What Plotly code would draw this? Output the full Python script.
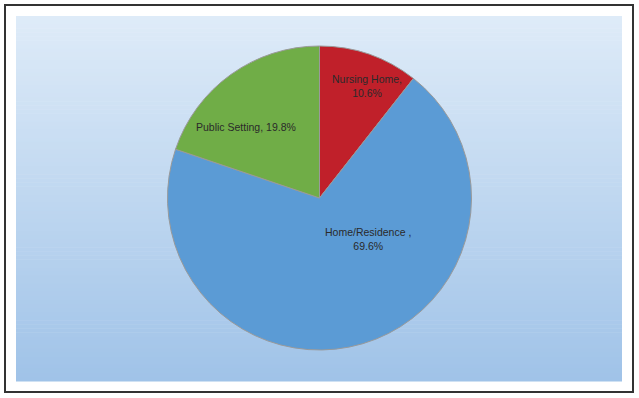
import plotly.graph_objects as go

# Data
categories = ["Nursing Home", "Home/Residence", "Public Setting"]
values = [10.6, 69.6, 19.8]
label_texts = ["Nursing Home,<br>10.6%", "Home/Residence ,<br>69.6%", "Public Setting, 19.8%"]
colors = ["#C0202A", "#5B9BD5", "#70AD47"]

W, H = 639, 398

def px(x):
    return x / W

def py(y):
    return 1 - y / H

cx, cy, r = 319.5, 198, 152

fig = go.Figure(go.Pie(
    labels=categories,
    values=values,
    sort=False,
    direction="clockwise",
    rotation=0,
    marker=dict(colors=colors, line=dict(color="#9a9a9a", width=1)),
    textinfo="none",
    hoverinfo="label+percent",
    showlegend=False,
    domain=dict(x=[px(cx - r), px(cx + r)], y=[py(cy + r), py(cy - r)]),
))

shapes = []
# outer frame
shapes.append(dict(type="rect", xref="paper", yref="paper",
                   x0=px(5), x1=px(633), y0=py(392), y1=py(5),
                   line=dict(color="#333333", width=2), fillcolor="white", layer="below"))
# gradient panel
top = (222, 235, 248)
bot = (160, 195, 232)
y0p, y1p = 16, 381
n = 90
for i in range(n):
    t = i / (n - 1)
    c = tuple(round(top[k] + (bot[k] - top[k]) * t) for k in range(3))
    ya = y0p + (y1p - y0p) * i / n
    yb = y0p + (y1p - y0p) * (i + 1) / n
    shapes.append(dict(type="rect", xref="paper", yref="paper",
                       x0=px(16), x1=px(622), y0=py(yb + 0.5), y1=py(ya),
                       line=dict(width=0), fillcolor="rgb(%d,%d,%d)" % c, layer="below"))

label_pos = [(367, 86), (368, 239), (246, 127)]
annotations = []
for txt, (x, y) in zip(label_texts, label_pos):
    annotations.append(dict(text=txt, x=px(x), y=py(y), xref="paper", yref="paper",
                            xanchor="center", yanchor="middle",
                            showarrow=False, align="center",
                            font=dict(family="Liberation Sans, Arial, sans-serif", size=10.5, color="#2a2a2a")))

fig.update_layout(
    width=W, height=H,
    margin=dict(l=0, r=0, t=0, b=0),
    paper_bgcolor="white",
    plot_bgcolor="white",
    shapes=shapes,
    annotations=annotations,
)

fig.write_html("out.html")
